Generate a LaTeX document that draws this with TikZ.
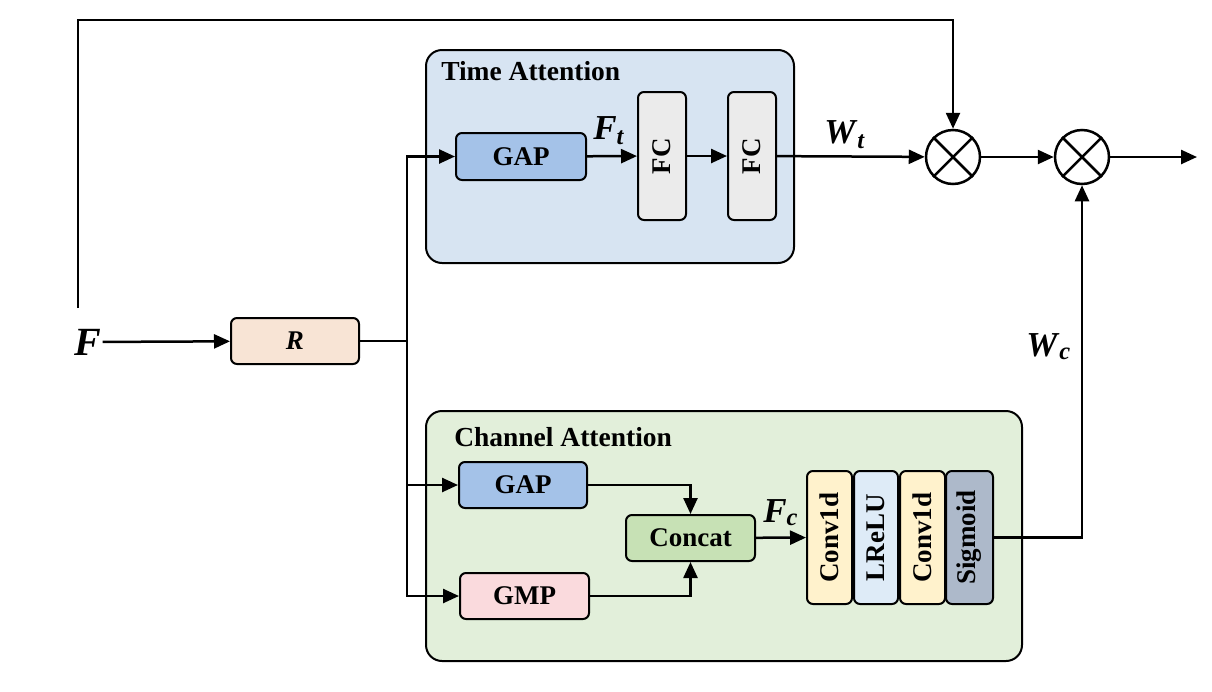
\documentclass[tikz,border=0pt]{standalone}
\usepackage{amsmath}
\usepackage{fontspec}
\setmainfont{Liberation Serif}
\usetikzlibrary{arrows.meta}
\definecolor{timebg}{RGB}{215,228,242}
\definecolor{chanbg}{RGB}{226,239,218}
\definecolor{gapfill}{RGB}{164,194,232}
\definecolor{fcfill}{RGB}{235,235,235}
\definecolor{rfill}{RGB}{248,228,213}
\definecolor{gmpfill}{RGB}{250,218,221}
\definecolor{catfill}{RGB}{199,225,181}
\definecolor{convfill}{RGB}{255,242,204}
\definecolor{relufill}{RGB}{222,235,247}
\definecolor{sigfill}{RGB}{173,185,202}
\newcommand{\bi}[1]{\textbf{\textit{#1}}}

\begin{document}
\begin{tikzpicture}[x=1pt,y=-1pt,line width=2.5pt,>={Triangle[length=16pt,width=14pt]},
  blk/.style={draw,line width=2pt,rounded corners=6pt,inner sep=0pt,font=\fontsize{27}{32}\selectfont\bfseries},
  grp/.style={draw,line width=2pt,rounded corners=16pt,inner sep=0pt},
  ttl/.style={anchor=base west,inner sep=0pt,font=\fontsize{27.5}{32}\selectfont\bfseries},
  lbl/.style={anchor=base west,inner sep=0pt,font=\fontsize{35}{40}\selectfont},
  mul/.style={circle,draw,minimum size=54pt,inner sep=0pt}]
\useasboundingbox (0,0) rectangle (1212,691);
% groups
\node[grp,fill=timebg,minimum width=368,minimum height=213] (tbox) at (610,156.5) {};
\node[grp,fill=chanbg,minimum width=596,minimum height=250] (cbox) at (724,536) {};
\node[ttl] (ttime) at (440,80) {Time Attention};
\node[ttl] (tchan) at (453,446) {Channel Attention};
% blocks
\node[blk,fill=rfill,minimum width=128,minimum height=46] (R) at (295,341) {\bi{R}};
\node[blk,fill=gapfill,minimum width=130,minimum height=47] (gap1) at (521,156.5) {GAP};
\node[blk,fill=fcfill,minimum width=48,minimum height=128] (fc1) at (662,156) {\rotatebox{90}{FC}};
\node[blk,fill=fcfill,minimum width=48,minimum height=128] (fc2) at (752,156) {\rotatebox{90}{FC}};
\node[blk,fill=gapfill,minimum width=128,minimum height=46] (gap2) at (523,485) {GAP};
\node[blk,fill=gmpfill,minimum width=129,minimum height=46] (gmp) at (524.5,596) {GMP};
\node[blk,fill=catfill,minimum width=129,minimum height=46] (cat) at (690.5,538) {Concat};
\node[blk,fill=convfill,minimum width=45,minimum height=133] (cv1) at (829.5,537.5) {\rotatebox{90}{Conv1d}};
\node[blk,fill=relufill,minimum width=44,minimum height=133] (lrelu) at (876,537.5) {\rotatebox{90}{LReLU}};
\node[blk,fill=convfill,minimum width=45,minimum height=133] (cv2) at (922.5,537.5) {\rotatebox{90}{Conv1d}};
\node[blk,fill=sigfill,minimum width=47,minimum height=133] (sig) at (969.5,537.5) {\rotatebox{90}{Sigmoid}};
\node[mul] (m1) at (953,157) {};
\node[mul] (m2) at (1082,157) {};
\draw (m1.north west) -- (m1.south east) (m1.north east) -- (m1.south west);
\draw (m2.north west) -- (m2.south east) (m2.north east) -- (m2.south west);
% labels
\node[inner sep=0pt,font=\fontsize{40}{44}\selectfont] (F) at (88,342) {\bi{F}};
\node[lbl] (Ft) at (592,139) {\bi{F}$_{\text{\bi{t}}}$};
\node[lbl] (Wt) at (823,143) {\bi{W}$_{\text{\bi{t}}}$};
\node[lbl] (Fc) at (762,522) {\bi{F}$_{\text{\bi{c}}}$};
\node[lbl] (Wc) at (1025,356) {\bi{W}$_{\text{\bi{c}}}$};
% connectors
\coordinate (s) at (78,308);
\coordinate (top) at (78,20);
\coordinate (br) at (407,341);
\coordinate (out) at (1197,157);
\draw[->] (F) -- (R);
\draw (R) -- (br);
\draw[->] (br) |- (gap1);
\draw[->] (br) |- (gap2);
\draw[->] (br) |- (gmp);
\draw[->] (gap1) -- (fc1);
\draw[->] (fc1) -- (fc2);
\draw[->] (fc2) -- (m1);
\draw[->] (s) -- (top) -| (m1);
\draw[->] (m1) -- (m2);
\draw[->] (m2) -- (out);
\draw[->] (gap2) -| (cat);
\draw[->] (gmp) -| (cat);
\draw[->] (cat) -- (cv1);
\draw[->] (sig) -| (m2);
\end{tikzpicture}
\end{document}
